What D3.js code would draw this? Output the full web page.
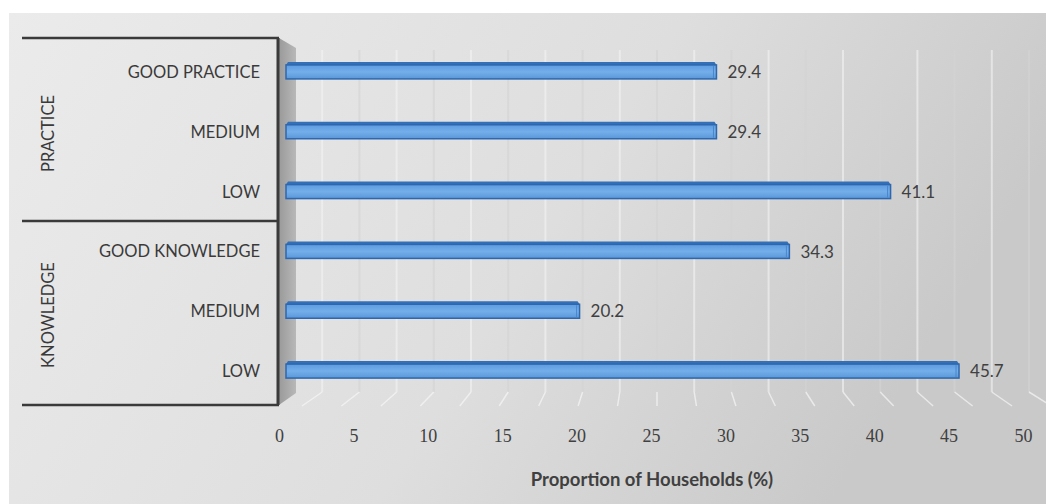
<!DOCTYPE html>
<html>
<head>
<meta charset="utf-8">
<script src="https://cdn.jsdelivr.net/npm/d3@7"></script>
<style>
  body { margin: 0; background: #fff; }
  svg { display: block; }
</style>
</head>
<body>
<svg id="chart" width="1046" height="504"></svg>
<script>
// data (top row first)
var groups = ['PRACTICE', 'KNOWLEDGE'];
var categories = ['GOOD PRACTICE', 'MEDIUM', 'LOW', 'GOOD KNOWLEDGE', 'MEDIUM', 'LOW'];
var values = [29.4, 29.4, 41.1, 34.3, 20.2, 45.7];
var xTicks = [0, 5, 10, 15, 20, 25, 30, 35, 40, 45, 50];
var xTitle = 'Proportion of Households (%)';

var svg = d3.select('#chart');
var defs = svg.append('defs');

var bg = defs.append('linearGradient').attr('id', 'bgGrad')
  .attr('x1', '0%').attr('y1', '0%').attr('x2', '100%').attr('y2', '30%');
bg.append('stop').attr('offset', '0%').attr('stop-color', '#ebebeb');
bg.append('stop').attr('offset', '60%').attr('stop-color', '#dedede');
bg.append('stop').attr('offset', '100%').attr('stop-color', '#c9c9c9');

var barGrad = defs.append('linearGradient').attr('id', 'barGrad')
  .attr('x1', '0').attr('y1', '0').attr('x2', '0').attr('y2', '1');
barGrad.append('stop').attr('offset', '0%').attr('stop-color', '#5d9be0');
barGrad.append('stop').attr('offset', '50%').attr('stop-color', '#74aeea');
barGrad.append('stop').attr('offset', '100%').attr('stop-color', '#5a97d9');

var wallGrad = defs.append('linearGradient').attr('id', 'wallGrad')
  .attr('x1', '0').attr('y1', '0').attr('x2', '1').attr('y2', '0');
wallGrad.append('stop').attr('offset', '0%').attr('stop-color', '#9a9a9a');
wallGrad.append('stop').attr('offset', '100%').attr('stop-color', '#b8b8b8');

// chart area background
svg.append('rect')
  .attr('x', 9).attr('y', 13).attr('width', 1037).attr('height', 491)
  .attr('fill', 'url(#bgGrad)');

var x = d3.scaleLinear().domain([0, 50]).range([279, 1023]);
var y = d3.scaleBand().domain(d3.range(categories.length)).range([42, 401]).paddingInner(0);

var wallTop = 48, wallBottom = 392, depth = 16;
var boxTop = 38, boxBottom = 405, boxRight = 278, boxLeft = 22;
var groupEdges = [boxTop, 221, boxBottom];

// back wall grid (white vertical lines every 2.5)
var gridVals = d3.range(0, 50.01, 2.5);
var grid = svg.append('g').attr('class', 'grid');
grid.selectAll('line.v')
  .data(gridVals.slice(1))
  .enter().append('line')
  .attr('class', 'v')
  .attr('x1', function (d) { return x(d) + 6; })
  .attr('x2', function (d) { return x(d) + 6; })
  .attr('y1', wallTop + 2)
  .attr('y2', wallBottom)
  .attr('stroke', function (d, i) { return i % 2 === 1 ? '#d4d4d4' : '#f4f4f4'; })
  .attr('stroke-width', 2)
  .attr('opacity', 0.6);

// floor lines in perspective
grid.selectAll('path.f')
  .data(gridVals.slice(1))
  .enter().append('path')
  .attr('class', 'f')
  .attr('d', function (d) {
    var x0 = x(d) + 6;
    var shift = (d - 25) * 0.9;
    return 'M' + x0 + ',' + wallBottom + ' L' + (x0 + shift) + ',' + (wallBottom + 14);
  })
  .attr('fill', 'none')
  .attr('stroke', '#f6f6f6')
  .attr('stroke-width', 1.5)
  .attr('opacity', 0.7);

// side wall
svg.append('path')
  .attr('d', 'M' + (boxRight + 1) + ',' + boxTop +
    ' L' + (boxRight + depth + 2) + ',' + (boxTop + 10) +
    ' L' + (boxRight + depth + 2) + ',' + (boxBottom - 12) +
    ' L' + (boxRight + 1) + ',' + boxBottom + 'Z')
  .attr('fill', 'url(#wallGrad)');

// bars
var bars = svg.append('g').attr('class', 'bars');
var barH = 14;
values.forEach(function (v, i) {
  var cy = y(i) + y.bandwidth() / 2;
  var x0 = boxRight + 8, x1 = x(v);
  var top = cy - barH / 2;
  var g = bars.append('g');
  // top face
  g.append('path')
    .attr('d', 'M' + (x0 + 2) + ',' + (top - 3) + ' L' + (x1 - 2) + ',' + (top - 3) +
      ' L' + x1 + ',' + top + ' L' + x0 + ',' + top + 'Z')
    .attr('fill', '#3470b8');
  g.append('rect')
    .attr('x', x0).attr('y', top)
    .attr('width', x1 - x0).attr('height', barH)
    .attr('fill', 'url(#barGrad)')
    .attr('stroke', '#2e67ad').attr('stroke-width', 1.5);
  g.append('line')
    .attr('x1', x1 - 3).attr('x2', x1 - 3)
    .attr('y1', top + 1).attr('y2', top + barH - 1)
    .attr('stroke', '#4a86cc').attr('stroke-width', 1);
  svg.append('text')
    .attr('x', x1 + 11).attr('y', cy)
    .attr('dy', '0.36em')
    .attr('font-family', 'Lato, "Open Sans", sans-serif')
    .attr('font-size', 17)
    .attr('fill', '#404040')
    .text(v.toFixed(1));
});

// left table box
var box = svg.append('g').attr('class', 'box');
groupEdges.forEach(function (yy) {
  box.append('line')
    .attr('x1', boxLeft).attr('x2', boxRight + 1)
    .attr('y1', yy).attr('y2', yy)
    .attr('stroke', '#3a3a3a').attr('stroke-width', 2.5);
});
box.append('line')
  .attr('x1', boxRight).attr('x2', boxRight)
  .attr('y1', boxTop).attr('y2', boxBottom)
  .attr('stroke', '#3a3a3a').attr('stroke-width', 3);

// category labels
svg.selectAll('text.cat')
  .data(categories)
  .enter().append('text')
  .attr('class', 'cat')
  .attr('x', 260)
  .attr('y', function (d, i) { return y(i) + y.bandwidth() / 2; })
  .attr('dy', '0.36em')
  .attr('text-anchor', 'end')
  .attr('font-family', 'Lato, "Open Sans", sans-serif')
  .attr('font-size', 16.5)
  .attr('fill', '#3a3a3a')
  .text(function (d) { return d; });

// group labels (rotated)
groups.forEach(function (gname, gi) {
  var cy = (groupEdges[gi] + groupEdges[gi + 1]) / 2 + (gi === 0 ? 4 : 2);
  svg.append('text')
    .attr('transform', 'translate(48,' + cy + ') rotate(-90)')
    .attr('dy', '0.36em')
    .attr('text-anchor', 'middle')
    .attr('font-family', 'Lato, "Open Sans", sans-serif')
    .attr('font-size', 16.5)
    .attr('fill', '#3a3a3a')
    .text(gname);
});

// x axis
var xAxis = d3.axisBottom(x).tickValues(xTicks).tickSize(0).tickPadding(0);
var ax = svg.append('g')
  .attr('transform', 'translate(0,429)')
  .call(xAxis);
ax.select('.domain').remove();
ax.selectAll('text')
  .attr('font-family', '"Liberation Serif", "DejaVu Serif", serif')
  .attr('font-size', 18)
  .attr('fill', '#404040');

svg.append('text')
  .attr('x', 652).attr('y', 479)
  .attr('dy', '0.36em')
  .attr('text-anchor', 'middle')
  .attr('font-family', 'Lato, "Open Sans", sans-serif')
  .attr('font-weight', 'bold')
  .attr('font-size', 18.5)
  .attr('fill', '#404040')
  .text(xTitle);
</script>
</body>
</html>
